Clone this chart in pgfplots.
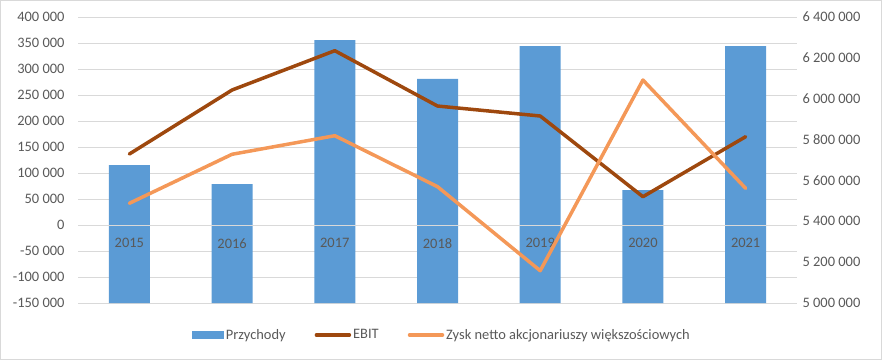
\documentclass[border=0pt]{standalone}
\usepackage{fontspec}
\setmainfont{Carlito}
\usepackage{pgfplots}
\pgfplotsset{compat=1.18}
\definecolor{txt}{HTML}{595959}
\definecolor{grd}{HTML}{D9D9D9}
\definecolor{barc}{HTML}{5B9BD5}
\definecolor{ebitc}{HTML}{9E480E}
\definecolor{zyskc}{HTML}{F49858}
\newcommand{\tf}{\fontsize{14.5}{17}\selectfont}
\pgfplotsset{
 base/.style={scale only axis, width=719bp, height=286bp, at={(78bp,57bp)}, anchor=south west, xmin=-0.5, xmax=6.5, scaled ticks=false},
 barleg/.style={legend image code/.code={\fill[##1] (0bp,-4bp) rectangle (32bp,4bp);}},
 lineleg/.style={legend image code/.code={\draw[##1] (0bp,0bp) -- (33bp,0bp);}},
}
\begin{document}
\begin{tikzpicture}[x=1bp,y=1bp]
\useasboundingbox (0,0) rectangle (882,360);
\draw[grd] (0.5,0.5) rectangle (881.5,359.5);
% left axis with grid
\begin{axis}[base, ymin=-150000, ymax=400000,
  ytick={-150000,-100000,-50000,0,50000,100000,150000,200000,250000,300000,350000,400000},
  yticklabels={-150 000,-100 000,-50 000,0,50 000,100 000,150 000,200 000,250 000,300 000,350 000,400 000},
  ymajorgrids, grid style={grd, line width=0.75bp},
  axis line style={draw=none}, major tick length=0, hide x axis,
  yticklabel style={font=\tf, text=txt, xshift=-10bp}]
\end{axis}
% right axis with bars
\begin{axis}[base, ymin=5000000, ymax=6400000, axis y line*=right,
  ytick={5000000,5200000,5400000,5600000,5800000,6000000,6200000,6400000},
  yticklabels={5 000 000,5 200 000,5 400 000,5 600 000,5 800 000,6 000 000,6 200 000,6 400 000},
  axis line style={draw=none}, major tick length=0, hide x axis,
  yticklabel style={font=\tf, text=txt, xshift=2bp},
  legend style={at={(0.506,-0.112)}, anchor=center, draw=none, fill=none, legend columns=3, font=\tf, text=txt, /tikz/every even column/.append style={column sep=27bp}}]
\addplot[ybar, bar width=41bp, fill=barc, draw=none, barleg] coordinates {(0,5675500) (1,5582500) (2,6287400) (3,6096500) (4,6258000) (5,5553100) (6,6258000)};
\addlegendentry{Przychody}
\addlegendimage{ebitc, line width=3.5bp, line cap=round, lineleg}
\addlegendentry{EBIT}
\addlegendimage{zyskc, line width=3.5bp, line cap=round, lineleg}
\addlegendentry{Zysk netto akcjonariuszy większościowych}
\end{axis}
% lines and category axis
\begin{axis}[base, ymin=-150000, ymax=400000,
  axis x line=middle, axis y line=none, ytick=\empty,
  x axis line style={-, draw=grd, line width=0.75bp},
  xtick={0,1,2,3,4,5,6}, xticklabels={2015,2016,2017,2018,2019,2020,2021},
  major tick length=0, hide obscured x ticks=false,
  xticklabel style={font=\tf, text=txt, yshift=-10bp}]
\addplot[ebitc, line width=3.5bp, line join=round, line cap=round, mark=none] coordinates {(0,136500) (1,259600) (2,335200) (3,228800) (4,209600) (5,54400) (6,169800)};
\addplot[zyskc, line width=3.5bp, line join=round, line cap=round, mark=none] coordinates {(0,41700) (1,136000) (2,171700) (3,73700) (4,-87900) (5,278800) (6,70500)};
\end{axis}
\end{tikzpicture}
\end{document}
